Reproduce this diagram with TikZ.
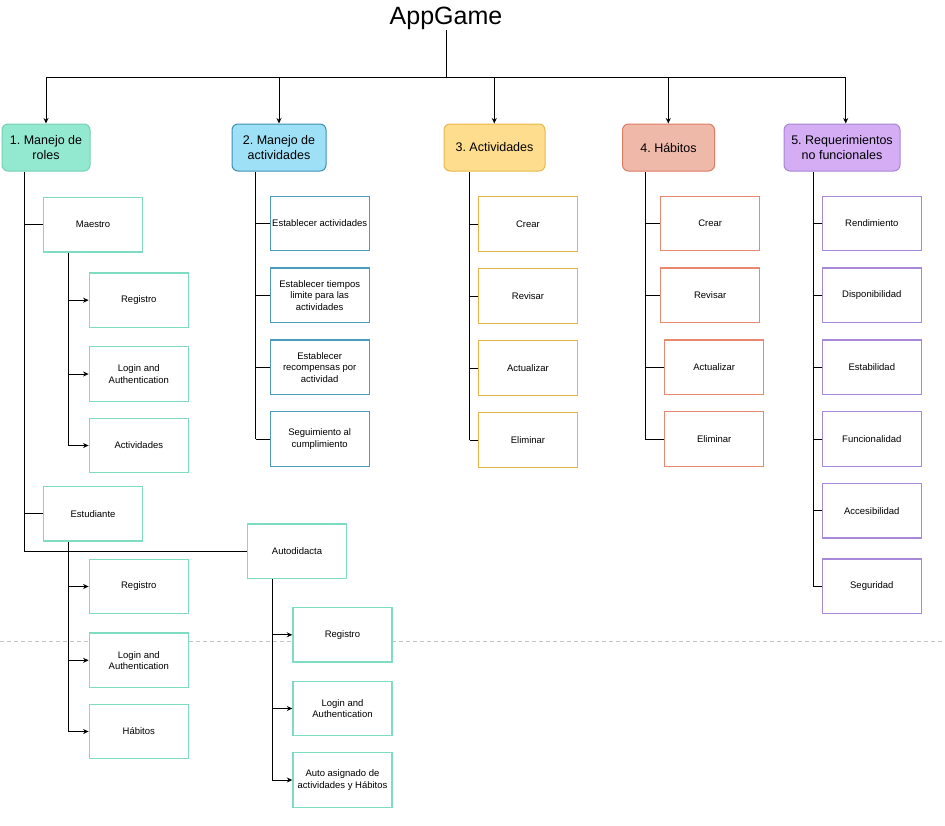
\documentclass[tikz,border=0pt]{standalone}
\usepackage{fontspec}
\setmainfont{Liberation Sans}
\usetikzlibrary{arrows.meta}
\frenchspacing
\definecolor{hafill}{HTML}{92E9D0}
\definecolor{haline}{HTML}{78CFB4}
\definecolor{hbfill}{HTML}{9EE0F5}
\definecolor{hbline}{HTML}{3E8FB2}
\definecolor{hcfill}{HTML}{FFDD8E}
\definecolor{hcline}{HTML}{E8B84A}
\definecolor{hdfill}{HTML}{EEB9A8}
\definecolor{hdline}{HTML}{DD7C64}
\definecolor{hefill}{HTML}{D4ADF5}
\definecolor{heline}{HTML}{A686D3}
\definecolor{sa}{HTML}{7EDDC0}
\definecolor{sb}{HTML}{4A9CBC}
\definecolor{sc}{HTML}{E8B145}
\definecolor{sd}{HTML}{E8886E}
\definecolor{se}{HTML}{A888D8}
\definecolor{dashgray}{HTML}{C4C4C4}
\tikzset{
  hdr/.style={draw, rounded corners=6pt, line width=1pt, align=center, inner sep=0pt,
    minimum height=47pt, font=\fontsize{12.5}{14.7}\selectfont},
  sub/.style={draw, fill=white, line width=1.4pt, minimum width=99pt, minimum height=54.5pt,
    align=center, inner sep=0pt, font=\fontsize{9.5}{11.3}\selectfont},
  conn/.style={line width=0.9pt, black},
  arr/.style={conn, -{Stealth[length=5.5pt,width=5pt]}},
}
\begin{document}
\begin{tikzpicture}[x=1pt,y=-1pt]
\useasboundingbox (0,0) rectangle (945,825);
\fill[white] (0,0) rectangle (945,825);
% dashed separator
\draw[dashgray, line width=0.8pt, dash pattern=on 4pt off 3pt] (0,641.3) -- (945,641.3);

% title
\node[inner sep=0pt, font=\fontsize{25}{28}\selectfont] (t) at (446,18) {AppGame};

% headers
\node[hdr, fill=hafill, draw=haline, minimum width=88pt] (h1) at (46,147.5) {1. Manejo de\\roles};
\node[hdr, fill=hbfill, draw=hbline, minimum width=94pt] (h2) at (279,147.5) {2. Manejo de\\actividades};
\node[hdr, fill=hcfill, draw=hcline, minimum width=101pt] (h3) at (494.5,147.5) {3. Actividades};
\node[hdr, fill=hdfill, draw=hdline, minimum width=92pt] (h4) at (668.5,147.5) {4. Hábitos};
\node[hdr, fill=hefill, draw=heline, minimum width=116pt] (h5) at (842,147.5) {5. Requerimientos\\no funcionales};

% bus coordinates
\coordinate (bt) at (446,77);
\coordinate (b1) at (46,77);
\coordinate (b2) at (279,77);
\coordinate (b3) at (494.3,77);
\coordinate (b4) at (668.3,77);
\coordinate (b5) at (845.7,77);

% column 1 boxes
\node[sub, draw=sa] (maestro) at (93,224.7) {Maestro};
\node[sub, draw=sa] (mreg) at (138.8,300.2) {Registro};
\node[sub, draw=sa] (mlog) at (138.8,374) {Login and\\Authentication};
\node[sub, draw=sa] (mact) at (138.8,445.5) {Actividades};
\node[sub, draw=sa] (est) at (93,513.8) {Estudiante};
\node[sub, draw=sa] (ereg) at (138.8,586.5) {Registro};
\node[sub, draw=sa] (elog) at (138.8,660.3) {Login and\\Authentication};
\node[sub, draw=sa] (ehab) at (138.8,731.5) {Hábitos};
\node[sub, draw=sa] (auto) at (297,551.2) {Autodidacta};
\node[sub, draw=sa] (areg) at (342.5,634.8) {Registro};
\node[sub, draw=sa] (alog) at (342.5,708.5) {Login and\\Authentication};
\node[sub, draw=sa] (aasg) at (342.5,780) {Auto asignado de\\actividades y Hábitos};

% column 2 boxes
\node[sub, draw=sb] (b2a) at (319.7,223.5) {Establecer actividades};
\node[sub, draw=sb] (b2b) at (319.7,295.3) {Establecer tiempos\\limite para las\\actividades};
\node[sub, draw=sb] (b2c) at (319.7,367.3) {Establecer\\recompensas por\\actividad};
\node[sub, draw=sb] (b2d) at (319.7,439) {Seguimiento al\\cumplimiento};

% column 3 boxes
\node[sub, draw=sc] (c3a) at (528,224) {Crear};
\node[sub, draw=sc] (c3b) at (528,296) {Revisar};
\node[sub, draw=sc] (c3c) at (528,368) {Actualizar};
\node[sub, draw=sc] (c3d) at (528,440) {Eliminar};

% column 4 boxes
\node[sub, draw=sd] (d4a) at (710.2,223.5) {Crear};
\node[sub, draw=sd] (d4b) at (710.2,295.3) {Revisar};
\node[sub, draw=sd] (d4c) at (714.2,367.3) {Actualizar};
\node[sub, draw=sd] (d4d) at (714.2,439) {Eliminar};

% column 5 boxes
\node[sub, draw=se] (e5a) at (871.8,223.5) {Rendimiento};
\node[sub, draw=se] (e5b) at (871.8,295.3) {Disponibilidad};
\node[sub, draw=se] (e5c) at (871.8,367.3) {Estabilidad};
\node[sub, draw=se] (e5d) at (871.8,439) {Funcionalidad};
\node[sub, draw=se] (e5e) at (871.8,510.8) {Accesibilidad};
\node[sub, draw=se] (e5f) at (871.8,586.3) {Seguridad};

% top bus
\draw[conn] (t.south) -- (bt);
\draw[conn] (b1) -- (b5);
\draw[arr] (b1) -- (h1.north);
\draw[arr] (b2) -- (h2.north);
\draw[arr] (b3) -- (b3 |- h3.north);
\draw[arr] (b4) -- (b4 |- h4.north);
\draw[arr] (b5) -- (b5 |- h5.north);

% x positions of trunks
\coordinate (x1) at (24.3,0);
\coordinate (xm) at (68.3,0);
\coordinate (xa) at (272.3,0);
\coordinate (x2) at (255.7,0);
\coordinate (x3) at (469.7,0);
\coordinate (x4) at (645.3,0);
\coordinate (x5) at (813.3,0);

% column 1
\draw[conn] (h1.south -| x1) |- (auto.west);
\draw[conn] (maestro.west -| x1) -- (maestro.west);
\draw[conn] (est.west -| x1) -- (est.west);
\draw[conn] (maestro.south -| xm) -- (mact.west -| xm);
\draw[arr] (mreg.west -| xm) -- (mreg.west);
\draw[arr] (mlog.west -| xm) -- (mlog.west);
\draw[arr] (mact.west -| xm) -- (mact.west);
\draw[conn] (est.south -| xm) -- (ehab.west -| xm);
\draw[arr] (ereg.west -| xm) -- (ereg.west);
\draw[arr] (elog.west -| xm) -- (elog.west);
\draw[arr] (ehab.west -| xm) -- (ehab.west);
\draw[conn] (auto.south -| xa) -- (aasg.west -| xa);
\draw[arr] (areg.west -| xa) -- (areg.west);
\draw[arr] (alog.west -| xa) -- (alog.west);
\draw[arr] (aasg.west -| xa) -- (aasg.west);

% column 2
\draw[conn] (h2.south -| x2) -- (b2d.west -| x2);
\foreach \n in {b2a,b2b,b2c,b2d} \draw[conn] (\n.west -| x2) -- (\n.west);
% column 3
\draw[conn] (h3.south -| x3) -- (c3d.west -| x3);
\foreach \n in {c3a,c3b,c3c,c3d} \draw[conn] (\n.west -| x3) -- (\n.west);
% column 4
\draw[conn] (h4.south -| x4) -- (d4d.west -| x4);
\foreach \n in {d4a,d4b,d4c,d4d} \draw[conn] (\n.west -| x4) -- (\n.west);
% column 5
\draw[conn] (h5.south -| x5) -- (e5f.west -| x5);
\foreach \n in {e5a,e5b,e5c,e5d,e5e,e5f} \draw[conn] (\n.west -| x5) -- (\n.west);
\end{tikzpicture}
\end{document}
